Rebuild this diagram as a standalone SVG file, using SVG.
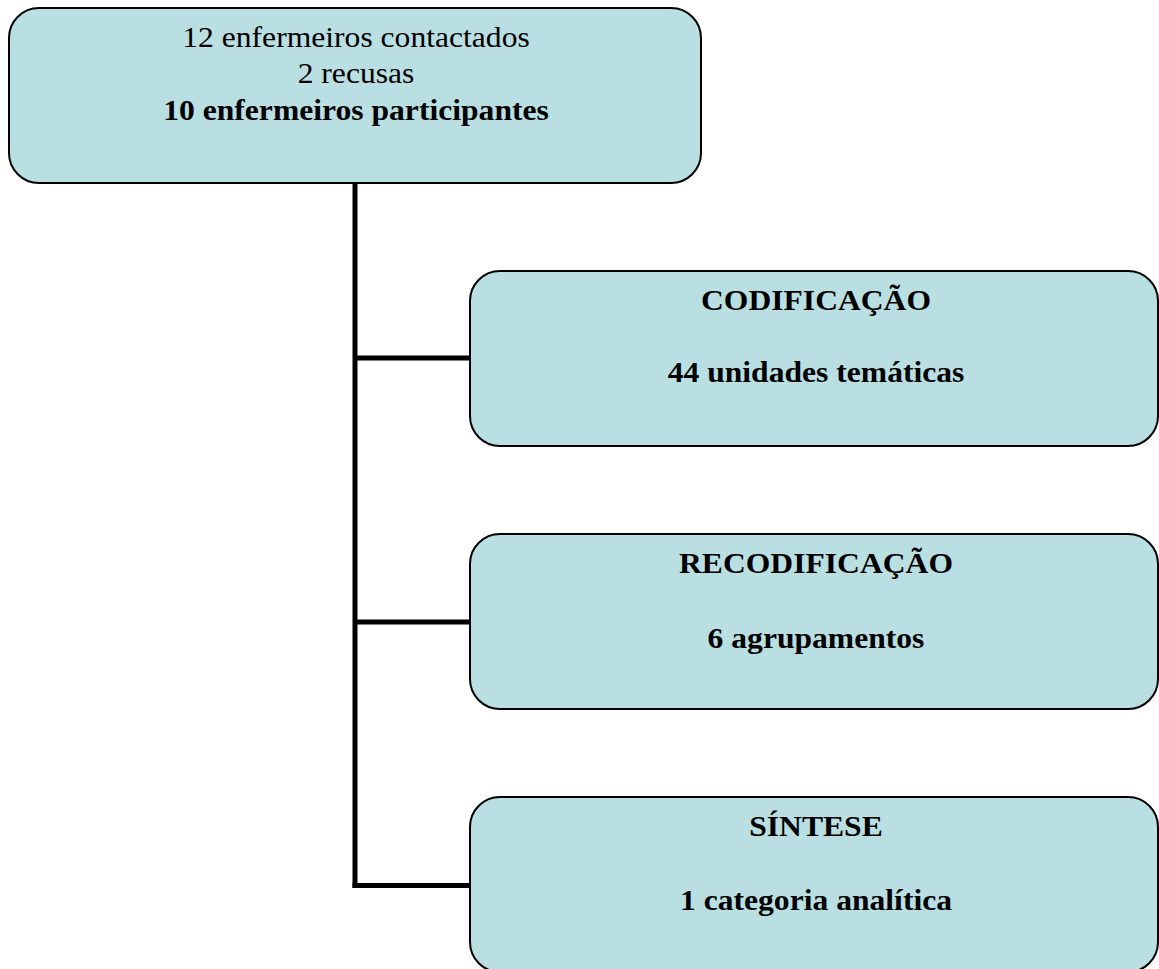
<svg xmlns="http://www.w3.org/2000/svg" width="1159" height="969" viewBox="0 0 1159 969">
<style>
.box{fill:#B9DFE3;stroke:#000;stroke-width:2}
.conn{stroke:#000;stroke-width:5;fill:none}
.t{font-family:'Liberation Serif','Times New Roman',Times,serif;font-size:29px;fill:#000;text-anchor:middle}
.b{font-weight:bold}
</style>
<rect width="1159" height="969" fill="#fff"/>
<g id="connectors">
<line class="conn" x1="355" y1="183" x2="355" y2="888"/>
<line class="conn" x1="355" y1="358" x2="471" y2="358"/>
<line class="conn" x1="355" y1="622" x2="471" y2="622"/>
<line class="conn" x1="352.5" y1="885.5" x2="471" y2="885.5"/>
</g>
<g id="node-participants">
<rect class="box" x="9" y="8" width="692" height="175" rx="30" ry="30"/>
<text class="t" transform="translate(356,47) scale(1.09,1)">12 enfermeiros contactados</text>
<text class="t" transform="translate(356,83) scale(1.09,1)">2 recusas</text>
<text class="t b" transform="translate(356,120) scale(1.09,1)">10 enfermeiros participantes</text>
</g>
<g id="node-codificacao">
<rect class="box" x="470" y="271" width="688" height="175" rx="30" ry="30"/>
<text class="t b" transform="translate(816,310) scale(1.09,1)">CODIFICAÇÃO</text>
<text class="t b" transform="translate(816,382) scale(1.09,1)">44 unidades temáticas</text>
</g>
<g id="node-recodificacao">
<rect class="box" x="470" y="534" width="688" height="175" rx="30" ry="30"/>
<text class="t b" transform="translate(816,573) scale(1.09,1)">RECODIFICAÇÃO</text>
<text class="t b" transform="translate(816,648) scale(1.09,1)">6 agrupamentos</text>
</g>
<g id="node-sintese">
<rect class="box" x="470" y="797" width="688" height="175" rx="30" ry="30"/>
<text class="t b" transform="translate(816,836) scale(1.09,1)">SÍNTESE</text>
<text class="t b" transform="translate(816,910) scale(1.09,1)">1 categoria analítica</text>
</g>
</svg>
